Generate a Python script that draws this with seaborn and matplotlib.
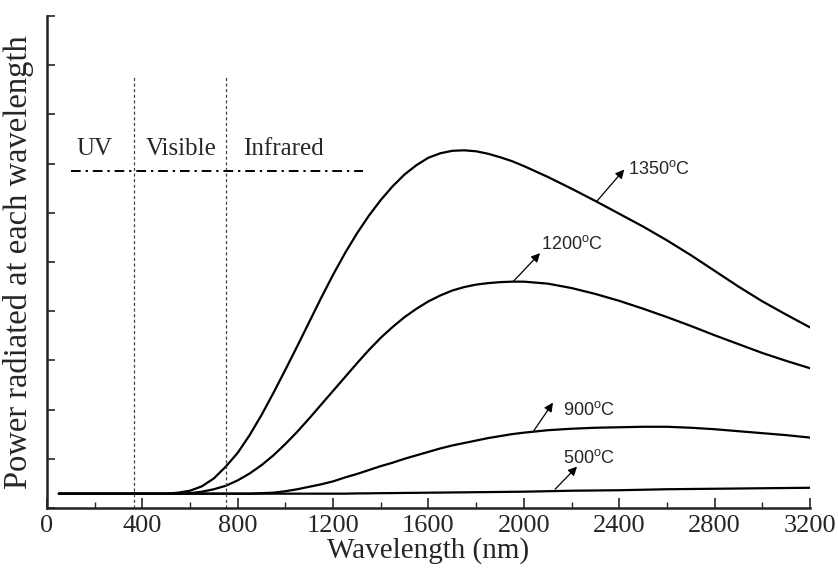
import numpy as np
import pandas as pd
import matplotlib
matplotlib.use("Agg")
import matplotlib.pyplot as plt
import seaborn as sns

# ---- data (y in arbitrary units) ----
wavelength = [50, 400, 500, 550, 600, 650, 700, 750, 800, 850, 900, 950, 1000, 1050,
              1100, 1150, 1200, 1250, 1300, 1350, 1400, 1450, 1500, 1550, 1600, 1650,
              1700, 1750, 1800, 1850, 1900, 1950, 2000, 2100, 2200, 2300, 2400, 2500,
              2600, 2700, 2800, 2900, 3000, 3100, 3200]
t1350 = [0.29, 0.29, 0.29, 0.31, 0.35, 0.44, 0.60, 0.84, 1.12, 1.48, 1.89, 2.34, 2.81, 3.29,
         3.78, 4.27, 4.74, 5.18, 5.58, 5.94, 6.26, 6.54, 6.78, 6.97, 7.12, 7.21,
         7.26, 7.27, 7.25, 7.20, 7.13, 7.05, 6.95, 6.73, 6.49, 6.24, 5.98, 5.72,
         5.44, 5.14, 4.82, 4.50, 4.20, 3.93, 3.67]
t1200 = [0.29, 0.29, 0.29, 0.29, 0.30, 0.33, 0.38, 0.45, 0.56, 0.70, 0.87, 1.07, 1.30, 1.55,
         1.82, 2.10, 2.38, 2.66, 2.94, 3.21, 3.46, 3.68, 3.88, 4.05, 4.20, 4.32,
         4.42, 4.49, 4.54, 4.57, 4.59, 4.60, 4.60, 4.56, 4.47, 4.35, 4.21, 4.05,
         3.88, 3.70, 3.51, 3.33, 3.15, 2.99, 2.84]
t900 = [0.29, 0.29, 0.29, 0.29, 0.29, 0.29, 0.29, 0.29, 0.29, 0.29, 0.30, 0.31, 0.34, 0.38,
        0.43, 0.48, 0.54, 0.62, 0.69, 0.77, 0.85, 0.92, 1.00, 1.07, 1.14, 1.21,
        1.27, 1.32, 1.37, 1.42, 1.46, 1.50, 1.53, 1.58, 1.61, 1.63, 1.64, 1.65,
        1.65, 1.63, 1.60, 1.56, 1.52, 1.48, 1.43]
t500 = [0.29, 0.29, 0.29, 0.29, 0.29, 0.29, 0.29, 0.29, 0.29, 0.29, 0.29, 0.29, 0.29, 0.29,
        0.29, 0.29, 0.29, 0.29, 0.295, 0.297, 0.30, 0.302, 0.305, 0.307, 0.31, 0.312,
        0.315, 0.317, 0.32, 0.322, 0.325, 0.328, 0.33, 0.34, 0.35, 0.355, 0.36, 0.37,
        0.38, 0.385, 0.39, 0.395, 0.40, 0.405, 0.41]
series_names = ["1350", "1200", "900", "500"]
series_values = [t1350, t1200, t900, t500]

# curve labels and arrows
label_text = [r"1350$^{\mathrm{o}}$C", r"1200$^{\mathrm{o}}$C", r"900$^{\mathrm{o}}$C", r"500$^{\mathrm{o}}$C"]
label_pos = [(2437, 6.90), (2072, 5.37), (2164, 2.00), (2164, 1.02)]
arrow_tail = [(2307, 6.24), (1955, 4.60), (2039, 1.55), (2131, 0.38)]
arrow_head = [(2421, 6.88), (2068, 5.18), (2122, 2.14), (2223, 0.84)]

region_bounds = [365, 750]
region_names = ["UV", "Visible", "Infrared"]
region_text_x = [200, 562, 990]
xticks = [0, 400, 800, 1200, 1600, 2000, 2400, 2800, 3200]

# ---- build long table ----
rows = []
for name, vals in zip(series_names, series_values):
    for w, v in zip(wavelength, vals):
        rows.append({"wavelength": w, "power": v, "T": name})
df = pd.DataFrame(rows)

sns.set_style("ticks")
plt.rcParams["font.family"] = ["Liberation Serif", "DejaVu Serif"]
plt.rcParams["mathtext.fontset"] = "custom"
plt.rcParams["mathtext.rm"] = "Liberation Sans"
plt.rcParams["mathtext.it"] = "Liberation Sans:italic"

fig = plt.figure(figsize=(8.38, 5.72), dpi=100)
ax = fig.add_axes([0.056, 0.112, 0.9106, 0.86])

sns.lineplot(data=df, x="wavelength", y="power", hue="T", hue_order=series_names,
             palette=["black"] * 4, linewidth=1.6, legend=False, ax=ax, sort=False,
             solid_joinstyle="round", solid_capstyle="round")

# region separators
for b in region_bounds:
    ax.plot([b, b], [0, 8.78], color="#444444", lw=0.9, linestyle=(0, (2.5, 2)))
ax.plot([101, 1325], [6.84, 6.84], color="black", lw=1.4,
        linestyle=(0, (5, 2.5, 1.2, 2.5)))
for t, x in zip(region_names, region_text_x):
    ax.text(x, 7.30, t, ha="center", va="center", fontsize=18,
            family=["Liberation Serif"])

for txt, (tx, ty), (ax0, ay0), (ax1, ay1) in zip(label_text, label_pos, arrow_tail, arrow_head):
    ax.annotate("", xy=(ax1, ay1), xytext=(ax0, ay0),
                arrowprops=dict(arrowstyle="-|>", color="black", lw=0.9,
                                mutation_scale=13, shrinkA=0, shrinkB=0))
    ax.text(tx, ty, txt, ha="left", va="center", fontsize=13,
            family=["Liberation Sans"])

ax.set_xlim(0, 3200)
ax.set_ylim(0, 10)
ax.set_xticks(xticks)
ax.set_xticks(np.arange(200, 3200, 400), minor=True)
ax.set_yticks(np.arange(0, 11, 1))
ax.set_yticklabels([])
ax.tick_params(axis="x", which="major", direction="in", length=7, width=1.2,
               labelsize=19, pad=5)
ax.tick_params(axis="x", which="minor", direction="in", length=4, width=1.0)
ax.tick_params(axis="y", which="major", direction="in", length=6, width=1.2)
for s in ["top", "right"]:
    ax.spines[s].set_visible(False)
for s in ["left", "bottom"]:
    ax.spines[s].set_linewidth(1.8)
    ax.spines[s].set_color("#222222")

ax.set_xlabel("Wavelength (nm)", fontsize=21, labelpad=0)
ax.set_ylabel("Power radiated at each wavelength", fontsize=23.5, labelpad=6)

fig.savefig("out.png", dpi=100)
